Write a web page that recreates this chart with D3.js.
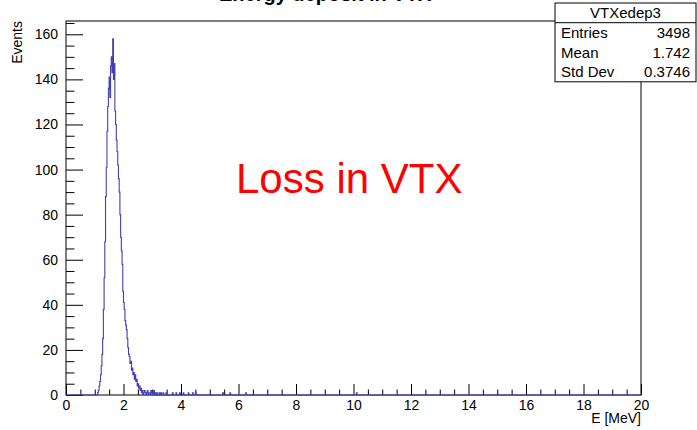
<!DOCTYPE html>
<html>
<head>
<meta charset="utf-8">
<script src="https://cdn.jsdelivr.net/npm/d3@7"></script>
<style>
  html, body { margin: 0; padding: 0; background: #fff; }
  svg { display: block; font-family: "Liberation Sans", Arial, Helvetica, sans-serif; }
</style>
</head>
<body>
<svg id="chart" width="697" height="430"></svg>
<script>
// Histogram binning: 800 bins over 0..20 MeV
const xMin = 0, xMax = 20, nBins = 800;
const binWidth = (xMax - xMin) / nBins;

// Counts of consecutive bins starting at lower edge binStart (MeV)
const binStart = 1.1;
const counts = [
  1, 2, 4, 6, 9, 13, 18, 25, 38, 52,
  68, 88, 101, 117, 128, 136, 141, 132, 146, 150,
  143, 158, 140, 147, 126, 120, 113, 108, 102, 96,
  90, 80, 70, 64, 58, 46, 41, 38, 33, 31,
  29, 25, 21, 18, 17, 14, 15, 11, 12, 9,
  10, 7, 9, 6, 7, 4, 5, 3, 4, 2,
  3, 1, 2, 0, 1, 2, 1, 0, 1, 2,
  0, 1, 1, 0, 2, 1, 0, 1, 2, 0,
  1, 0, 1, 1, 0, 0, 1, 0, 1, 0,
  0, 1, 0, 0, 0, 1
];

// Isolated single entries further out in the tail (MeV)
const tailEvents = [3.72, 3.83, 3.97, 4.08, 4.27, 4.41, 4.52, 5.46, 5.71, 6.26, 10.12];

// Axis ticks
const xMajorTicks = [0, 2, 4, 6, 8, 10, 12, 14, 16, 18, 20];
const yMajorTicks = [0, 20, 40, 60, 80, 100, 120, 140, 160];

// Statistics box
const statsTitle = "VTXedep3";
const statsNames = ["Entries", "Mean", "Std Dev"];
const statsValues = ["3498", "1.742", "0.3746"];

const titleText = "Energy deposit in VTX";
const annotation = "Loss in VTX";
const xTitle = "E [MeV]";
const yTitle = "Events";

// ---- fill the bin array ----
const binCounts = new Array(nBins).fill(0);
const startIdx = Math.round((binStart - xMin) / binWidth);
counts.forEach((c, i) => { binCounts[startIdx + i] += c; });
tailEvents.forEach(e => { binCounts[Math.floor((e - xMin) / binWidth)] += 1; });

const peak = d3.max(binCounts);
const yMax = peak * 1.05;

// ---- layout ----
const frame = { left: 66, right: 641, top: 21, bottom: 395 };
const svg = d3.select("#chart");

const x = d3.scaleLinear().domain([xMin, xMax]).range([frame.left, frame.right]);
const y = d3.scaleLinear().domain([0, yMax]).range([frame.bottom, frame.top]);

// Title (sits at the very top edge of the canvas)
svg.append("text")
  .attr("x", 219).attr("y", 1)
  .attr("font-size", 20).attr("font-weight", "bold")
  .attr("fill", "#000")
  .text(titleText);

// Frame
svg.append("rect")
  .attr("x", frame.left).attr("y", frame.top)
  .attr("width", frame.right - frame.left)
  .attr("height", frame.bottom - frame.top)
  .attr("fill", "#fff").attr("stroke", "#000").attr("stroke-width", 1);

// X axis: major and minor ticks pointing inward
const xMinor = d3.range(xMin, xMax + 1e-9, 0.5).filter(v => !xMajorTicks.includes(v));
const xAxis = svg.append("g").attr("transform", `translate(0,${frame.bottom})`);
xAxis.call(d3.axisBottom(x).tickValues(xMajorTicks).tickSize(-11).tickPadding(5).tickFormat(d3.format("d")));
xAxis.append("g").call(d3.axisBottom(x).tickValues(xMinor).tickSize(-5.5).tickFormat(""));
xAxis.selectAll(".domain").remove();

// Y axis
const yMinor = d3.range(0, yMax, 5).filter(v => !yMajorTicks.includes(v));
const yAxis = svg.append("g").attr("transform", `translate(${frame.left},0)`);
yAxis.call(d3.axisLeft(y).tickValues(yMajorTicks).tickSize(-17).tickPadding(8).tickFormat(d3.format("d")));
yAxis.append("g").call(d3.axisLeft(y).tickValues(yMinor).tickSize(-8.5).tickFormat(""));
yAxis.selectAll(".domain").remove();

svg.selectAll(".tick line").attr("stroke", "#000");
svg.selectAll(".tick text").attr("font-size", 14).attr("fill", "#000")
  .attr("font-family", "'Liberation Sans', Arial, sans-serif");

// Histogram outline as a stair line
const pts = binCounts.map((c, i) => [xMin + i * binWidth, c]);
pts.push([xMax, binCounts[nBins - 1]]);
const stair = d3.line()
  .x(d => x(d[0])).y(d => y(d[1]))
  .curve(d3.curveStepAfter);
svg.append("path")
  .attr("d", stair(pts))
  .attr("fill", "none")
  .attr("stroke", "#4040b4")
  .attr("stroke-width", 1.1);

// Axis titles
svg.append("text")
  .attr("x", frame.right).attr("y", 423)
  .attr("text-anchor", "end").attr("font-size", 14)
  .text(xTitle);
svg.append("text")
  .attr("transform", `translate(22,${frame.top}) rotate(-90)`)
  .attr("text-anchor", "end").attr("font-size", 14)
  .text(yTitle);

// Annotation
svg.append("text")
  .attr("x", 236).attr("y", 193)
  .attr("font-size", 42).attr("fill", "#ff0000")
  .text(annotation);

// Statistics box
const box = { x: 555, y: 3, w: 141, rowH: 19.7 };
const sb = svg.append("g");
sb.append("rect")
  .attr("x", box.x).attr("y", box.y)
  .attr("width", box.w).attr("height", box.rowH * 4)
  .attr("fill", "#fff").attr("stroke", "#000");
sb.append("line")
  .attr("x1", box.x).attr("x2", box.x + box.w)
  .attr("y1", box.y + box.rowH).attr("y2", box.y + box.rowH)
  .attr("stroke", "#000");
sb.append("text")
  .attr("x", box.x + box.w / 2).attr("y", box.y + box.rowH - 4.5)
  .attr("text-anchor", "middle").attr("font-size", 15)
  .text(statsTitle);
statsNames.forEach((n, i) => {
  const by = box.y + box.rowH * (i + 2) - 4.5;
  sb.append("text").attr("x", box.x + 6).attr("y", by).attr("font-size", 15).text(n);
  sb.append("text").attr("x", box.x + box.w - 6).attr("y", by)
    .attr("text-anchor", "end").attr("font-size", 15).text(statsValues[i]);
});
</script>
</body>
</html>
